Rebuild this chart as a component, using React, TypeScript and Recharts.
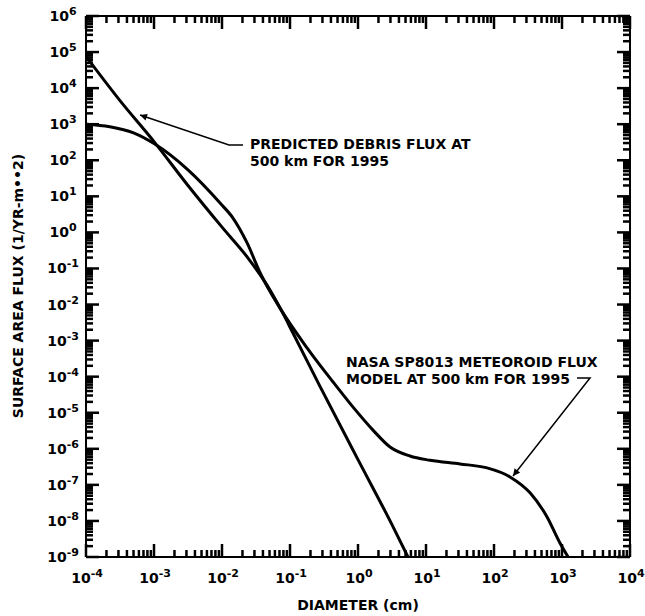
import { LineChart, Line, XAxis, YAxis } from 'recharts'

// debris flux model (diameter cm, flux 1/yr-m2)
const debrisDiameter = [1e-4, 3.16e-4, 1e-3, 3.16e-3, 1e-2, 2.34e-2, 5.1e-2, 7.4e-2, 0.111, 0.276, 1, 3.16, 5.43]
const debrisFlux = [7.6e4, 4.5e3, 330, 20, 1.4, 0.21, 0.025, 7.1e-3, 1.6e-3, 5.4e-5, 5.0e-7, 7.9e-9, 1e-9]

// NASA SP8013 meteoroid model
const meteoroidDiameter = [
  1e-4, 2.24e-4, 5.0e-4, 1e-3, 3.16e-3, 9.3e-3, 1.45e-2, 2.34e-2, 3.63e-2, 7.4e-2, 0.178, 0.43,
  0.84, 1.66, 2.96, 5.8, 11.5, 31.6, 79, 172, 339, 603, 933, 1230,
]
const meteoroidFlux = [
  1.0e3, 850, 575, 290, 54, 6.6, 2.5, 0.51, 0.076, 7.1e-3, 6.3e-4, 7.1e-5,
  1.45e-5, 3.3e-6, 1.12e-6, 6.3e-7, 4.8e-7, 3.8e-7, 2.95e-7, 1.66e-7, 6.0e-8, 1.29e-8, 2.45e-9, 1e-9,
]

const xExponents = [-4, -3, -2, -1, 0, 1, 2, 3, 4]
const yExponents = [-9, -8, -7, -6, -5, -4, -3, -2, -1, 0, 1, 2, 3, 4, 5, 6]

const debrisData = debrisDiameter.map((d, i) => ({ d, flux: debrisFlux[i] }))
const meteoroidData = meteoroidDiameter.map((d, i) => ({ d, flux: meteoroidFlux[i] }))

// decade ticks plus 2..9 minor ticks inside each decade
const logTicks = (exps: number[]) => {
  const out: number[] = []
  exps.forEach((e, i) => {
    if (i === exps.length - 1) {
      out.push(Math.pow(10, e))
      return
    }
    for (let m = 1; m <= 9; m++) out.push(m * Math.pow(10, e))
  })
  return out
}
const xTicks = logTicks(xExponents)
const yTicks = logTicks(yExponents)

const FONT = '"DejaVu Sans", sans-serif'
const MAJOR = 13
const MINOR = 7
const TICK_W = 2.5

const expOf = (v: number) => Math.round(Math.log10(v))
const isDecade = (v: number) => Math.abs(Math.log10(v) - expOf(v)) < 1e-6

const Pow = ({ x, y, v }: { x: number; y: number; v: number }) => (
  <text x={x} y={y} textAnchor="middle" fontFamily={FONT} fontWeight="bold" fontSize={14} fill="#000">
    10
    <tspan dy={-6} fontSize={11}>{String(expOf(v))}</tspan>
  </text>
)

// inward tick marks; dx/dy give the direction into the plot
const frameTick = (dx: number, dy: number, labelled: boolean) => (props: any) => {
  const { x, y, payload } = props
  const major = isDecade(payload.value)
  const len = major ? MAJOR : MINOR
  return (
    <g>
      <line x1={x} x2={x + dx * len} y1={y} y2={y + dy * len} stroke="black" strokeWidth={TICK_W} />
      {labelled && major && dy !== 0 && <Pow x={x + 1} y={y + 26} v={payload.value} />}
      {labelled && major && dx !== 0 && <Pow x={x - 23} y={y + 5} v={payload.value} />}
    </g>
  )
}
const BottomTick = frameTick(0, -1, true)
const TopTick = frameTick(0, 1, false)
const LeftTick = frameTick(1, 0, true)
const RightTick = frameTick(-1, 0, false)

const axisLine = { stroke: '#000', strokeWidth: 2 }
const X_DOMAIN: [number, number] = [1e-4, 1e4]
const Y_DOMAIN: [number, number] = [1e-9, 1e6]

export default function App() {
  return (
    <div style={{ position: 'absolute', left: 0, top: 0, width: 645, height: 616, background: '#fff' }}>
      <svg width={645} height={616} style={{ position: 'absolute', left: 0, top: 0 }}>
        <defs>
          <marker id="head" viewBox="0 0 10 10" refX="10" refY="5" markerWidth="9" markerHeight="7" markerUnits="userSpaceOnUse" orient="auto">
            <path d="M0,0 L10,5 L0,10 z" fill="#000" />
          </marker>
        </defs>
        <g fontFamily={FONT} fontWeight="bold" fontSize={14} fill="#000">
          <text x={250} y={149}>PREDICTED DEBRIS FLUX AT</text>
          <text x={250} y={166}>500 km FOR 1995</text>
          <text x={346} y={367}>NASA SP8013 METEOROID FLUX</text>
          <text x={346} y={384}>MODEL AT 500 km FOR 1995</text>
          <text x={358} y={610} textAnchor="middle">DIAMETER (cm)</text>
          <text x={23} y={286} textAnchor="middle" transform="rotate(-90 23 286)">SURFACE AREA FLUX (1/YR-m••2)</text>
        </g>
        <path d="M243,145 L229,145 L140,115" fill="none" stroke="#000" strokeWidth={1.5} markerEnd="url(#head)" />
        <path d="M577,378 L590,378 L513,476" fill="none" stroke="#000" strokeWidth={1.5} markerEnd="url(#head)" />
      </svg>

      <LineChart width={645} height={616} margin={{ top: 15, right: 14, left: 0, bottom: 0 }}>
        <XAxis
          dataKey="d"
          type="number"
          scale="log"
          domain={X_DOMAIN}
          allowDataOverflow
          ticks={xTicks}
          interval={0}
          tickSize={0}
          tickMargin={0}
          tick={<BottomTick />}
          axisLine={axisLine}
          height={59}
        />
        <XAxis
          xAxisId="top"
          orientation="top"
          dataKey="d"
          type="number"
          scale="log"
          domain={X_DOMAIN}
          allowDataOverflow
          ticks={xTicks}
          interval={0}
          tickSize={0}
          tickMargin={0}
          tick={<TopTick />}
          axisLine={axisLine}
          height={1}
        />
        <YAxis
          type="number"
          scale="log"
          domain={Y_DOMAIN}
          allowDataOverflow
          ticks={yTicks}
          interval={0}
          tickSize={0}
          tickMargin={0}
          tick={<LeftTick />}
          axisLine={axisLine}
          width={86}
        />
        <YAxis
          yAxisId="right"
          orientation="right"
          type="number"
          scale="log"
          domain={Y_DOMAIN}
          allowDataOverflow
          ticks={yTicks}
          interval={0}
          tickSize={0}
          tickMargin={0}
          tick={<RightTick />}
          axisLine={axisLine}
          width={1}
        />
        <Line data={debrisData} dataKey="flux" type="monotone" stroke="#000" strokeWidth={3} dot={false} activeDot={false} isAnimationActive={false} />
        <Line data={meteoroidData} dataKey="flux" type="monotone" stroke="#000" strokeWidth={3} dot={false} activeDot={false} isAnimationActive={false} />
      </LineChart>
    </div>
  )
}
